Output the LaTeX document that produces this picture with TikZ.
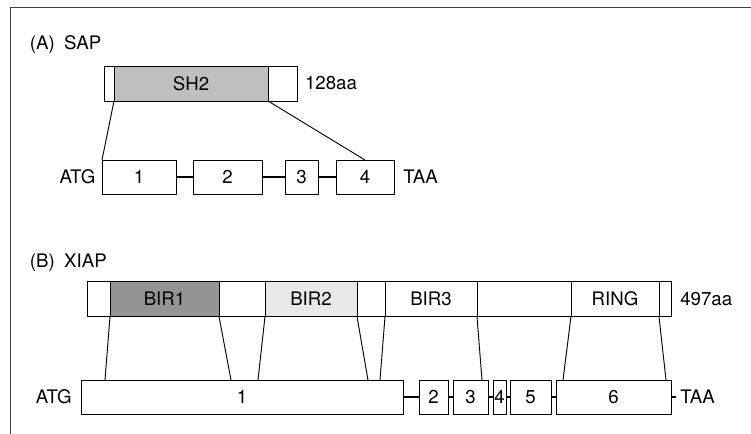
\documentclass[tikz,border=0pt]{standalone}
\usepackage{fontspec}
\setmainfont{TeX Gyre Heros}
\usetikzlibrary{calc, positioning}

\begin{document}
\begin{tikzpicture}[x=0.75pt, y=-0.75pt, line width=0.7pt,
  font=\fontsize{14}{16}\selectfont,
  seg/.style={draw, rectangle, inner sep=0pt, outer sep=0pt, anchor=west, minimum width=#1*0.75pt},
  exon/.style={seg=#1, minimum height=34*0.75pt},
  dom/.style={seg=#1, minimum height=35*0.75pt},
  intron/.style={line width=1.5pt},
  tag/.style={inner sep=0pt, outer sep=0pt}]
\useasboundingbox (0,0) rectangle (751,434);

\draw[black!75] (751,7) -- (10,7) -- (10,434);

\node[tag, anchor=west] (labA) at (30,45) {(A)\hspace{0.5em}SAP};
\node[tag, anchor=west] (labB) at (30,263) {(B)\hspace{0.5em}XIAP};

\node[dom=10] (pA0) at (104,83.5) {};
\node[dom=154, fill=black!25, right=0pt of pA0] (sh2) {SH2};
\node[dom=29, right=0pt of sh2] (pA2) {};
\node[tag, right=8*0.75pt of pA2, anchor=west] (lenA) {128aa};

\node[exon=74] (exA1) at (102,177) {1};
\node[exon=69] (exA2) at (193,177) {2};
\node[exon=33] (exA3) at (285,177) {3};
\node[exon=58] (exA4) at (336,177) {4};
\node[tag, left=5pt of exA1] (atgA) {ATG};
\node[tag, right=7pt of exA4] (taaA) {TAA};

\draw[intron] (exA1) -- (exA2);
\draw[intron] (exA2) -- (exA3);
\draw[intron] (exA3) -- (exA4);

\draw (sh2.south west) -- (exA1.north west);
\draw (sh2.south east) -- (exA4.north);

\node[dom=23] (pB0) at (87,299) {};
\node[dom=109, fill=black!42, right=0pt of pB0] (bir1) {BIR1};
\node[dom=46, right=0pt of bir1] (pB2) {};
\node[dom=92, fill=black!9, right=0pt of pB2] (bir2) {BIR2};
\node[dom=28, right=0pt of bir2] (pB4) {};
\node[dom=92, right=0pt of pB4] (bir3) {BIR3};
\node[dom=94, right=0pt of bir3] (pB6) {};
\node[dom=88, right=0pt of pB6] (ring) {RING};
\node[dom=12, right=0pt of ring] (pB8) {};
\node[tag, right=7pt of pB8] (lenB) {497aa};

\node[exon=322] (exB1) at (81,397) {1};
\node[exon=29] (exB2) at (419,397) {2};
\node[exon=35] (exB3) at (453,397) {3};
\node[exon=13] (exB4) at (493,397) {4};
\node[exon=41] (exB5) at (510,397) {5};
\node[exon=115] (exB6) at (556,397) {6};
\coordinate (endB) at ($(exB6.east)+(5,0)$);
\node[tag, left=7pt of exB1] (atgB) {ATG};
\node[tag, right=7pt of exB6] (taaB) {TAA};

\draw[intron] (exB1) -- (exB2);
\draw[intron] (exB2) -- (exB3);
\draw[intron] (exB3) -- (exB4);
\draw[intron] (exB4) -- (exB5);
\draw[intron] (exB5) -- (exB6);
\draw[intron] (exB6) -- (endB);

\draw (bir1.south west) -- ($(exB1.north west)+(24,0)$);
\draw (bir1.south east) -- ($(exB1.north west)+(150,0)$);
\draw (bir2.south west) -- ($(exB1.north west)+(177,0)$);
\draw (bir2.south east) -- ($(exB1.north west)+(287,0)$);
\draw (bir3.south west) -- ($(exB1.north west)+(299,0)$);
\draw (bir3.south east) -- ($(exB3.north west)+(29,0)$);
\draw (ring.south west) -- ($(exB6.north west)+(7,0)$);
\draw (ring.south east) -- ($(exB6.north east)+(-5,0)$);
\end{tikzpicture}
\end{document}
